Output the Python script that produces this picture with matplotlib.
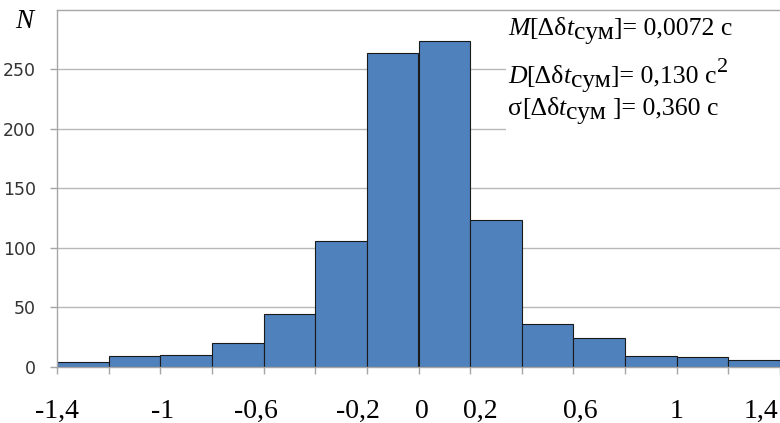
import numpy as np
import matplotlib
matplotlib.use("Agg")
import matplotlib.pyplot as plt
import matplotlib.transforms as mtransforms
from matplotlib.patches import Rectangle

# ---- data ----
bin_edges = [-1.4, -1.2, -1.0, -0.8, -0.6, -0.4, -0.2, 0.0, 0.2, 0.4, 0.6, 0.8, 1.0, 1.2, 1.4]
counts = [4, 9, 10, 20, 44, 106, 264, 274, 123, 36, 24, 9, 8, 6]
x_tick_labels = ["-1,4", "", "-1", "", "-0,6", "", "-0,2", "0", "0,2", "", "0,6", "", "1", "", "1,4"]
y_ticks = [0, 50, 100, 150, 200, 250]
y_label = "N"
stats_lines = [
    [("M", "italic", 0, 18.5), ("[Δδ", "normal", 0, 18.5), ("t", "italic", 0, 18.5),
     ("сум", "normal", -3.5, 18.5), ("]= 0,0072 с", "normal", 0, 18.5)],
    [("D", "italic", 0, 18.5), ("[Δδ", "normal", 0, 18.5), ("t", "italic", 0, 18.5),
     ("сум", "normal", -3.5, 18.5), ("]= 0,130 с", "normal", 0, 18.5), ("2", "normal", 11, 16)],
    [("σ", "normal", 0, 18.5), ("[Δδ", "normal", 0, 18.5), ("t", "italic", 0, 18.5),
     ("сум ", "normal", -3.5, 18.5), ("]= 0,360 с", "normal", 0, 18.5)],
]

W, H = 780, 423
fig = plt.figure(figsize=(W / 100, H / 100), dpi=100)
ax = fig.add_axes([57 / W, 1 - 366.7 / H, 1 - 57 / W, (366.7 - 10) / H])

edges = np.array(bin_edges)
widths = np.diff(edges)
ax.bar(edges[:-1], counts, width=widths, align="edge", color="#4F81BD",
       edgecolor="#1a1a1a", linewidth=0.8, zorder=2)

ax.set_xlim(bin_edges[0], bin_edges[-1])
ax.set_ylim(0, 300)

gray = "#a6a6a6"
ax.set_yticks(y_ticks)
ax.set_yticklabels([str(v) for v in y_ticks])
ax.yaxis.grid(True, color="#b8b8b8", linewidth=1.0, zorder=0)
ax.set_axisbelow(True)
ax.tick_params(axis="y", length=5, width=1.0, color=gray, pad=10,
               labelsize=12.5, labelcolor="#333333")
for lab in ax.get_yticklabels():
    lab.set_family("DejaVu Sans")

ax.set_xticks(bin_edges)
ax.set_xticklabels(x_tick_labels)
ax.tick_params(axis="x", length=5, width=1.0, color=gray, pad=18,
               labelsize=20, labelcolor="black")
offsets_px = [0, 0, 2, 0, -8, 0, -9, 3, 10, 0, 7, 0, 0, 0, -19]
for lab, dx in zip(ax.get_xticklabels(), offsets_px):
    lab.set_family("Liberation Serif")
    if dx:
        lab.set_transform(lab.get_transform() +
                          mtransforms.ScaledTranslation(dx / 100, 0, fig.dpi_scale_trans))

for side in ["left", "bottom", "top"]:
    ax.spines[side].set_color(gray)
    ax.spines[side].set_linewidth(1.0)
ax.spines["right"].set_visible(False)

# white box behind the statistics text
ax.add_patch(Rectangle((0.621, 185 / 300), 0.38, 0.38, transform=ax.transAxes,
                       facecolor="white", edgecolor="none", zorder=2.2))

# axis name
fig.text(24, H - 28, y_label, transform=mtransforms.IdentityTransform(),
         ha="center", va="baseline", family="Liberation Serif", style="italic",
         fontsize=19.5)

# statistics text, built piece by piece
renderer = fig.canvas.get_renderer()
baselines = [35, 83, 115]
for pieces, base in zip(stats_lines, baselines):
    x = 508
    for s, st, dy, size in pieces:
        t = fig.text(x, H - base + dy, s, transform=mtransforms.IdentityTransform(),
                     ha="left", va="baseline", family="Liberation Serif",
                     style=st, fontsize=size, color="black", zorder=5)
        x += t.get_window_extent(renderer).width

fig.savefig("out.png", dpi=100)
